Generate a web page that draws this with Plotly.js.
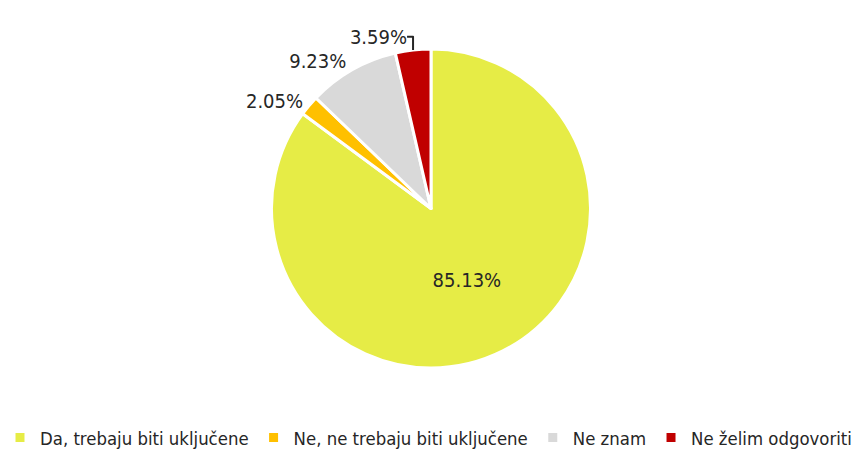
<!DOCTYPE html>
<html>
<head>
<meta charset="utf-8">
<script src="https://cdn.plot.ly/plotly-3.0.1.min.js"></script>
<style>html,body{margin:0;padding:0;background:#fff;}#chart{width:857px;height:456px;}</style>
</head>
<body>
<div id="chart"></div>
<script>
const categories = ["Da, trebaju biti uključene", "Ne, ne trebaju biti uključene", "Ne znam", "Ne želim odgovoriti"];
const percentValues = [85.13, 2.05, 9.23, 3.59];
const sliceColors = ["#e6ec46", "#ffc000", "#d9d9d9", "#c00000"];
const fontFamily = "'DejaVu Sans Condensed', 'Liberation Sans Narrow', 'Liberation Sans', sans-serif";

const trace = {
  type: "pie",
  labels: categories,
  values: percentValues,
  sort: false,
  direction: "clockwise",
  rotation: 0,
  marker: { colors: sliceColors, line: { color: "#ffffff", width: 3 } },
  texttemplate: "%{percent:.2%}",
  textposition: ["inside", "outside", "outside", "outside"],
  insidetextorientation: "horizontal",
  textfont: { family: fontFamily, size: 20, color: "#262626" },
  hoverinfo: "label+percent"
};

const layout = {
  width: 857,
  height: 456,
  margin: { l: 5, r: 0, t: 49, b: 87 },
  paper_bgcolor: "#ffffff",
  plot_bgcolor: "#ffffff",
  font: { family: fontFamily, size: 18.4, color: "#262626" },
  showlegend: true,
  legend: {
    orientation: "h",
    x: 0.5, xanchor: "center",
    y: -0.16, yanchor: "top",
    font: { family: fontFamily, size: 18.4, color: "#262626" },
    itemwidth: 30,
    tracegroupgap: 0
  }
};

Plotly.newPlot("chart", [trace], layout, { displayModeBar: false, staticPlot: true });
</script>
</body>
</html>
